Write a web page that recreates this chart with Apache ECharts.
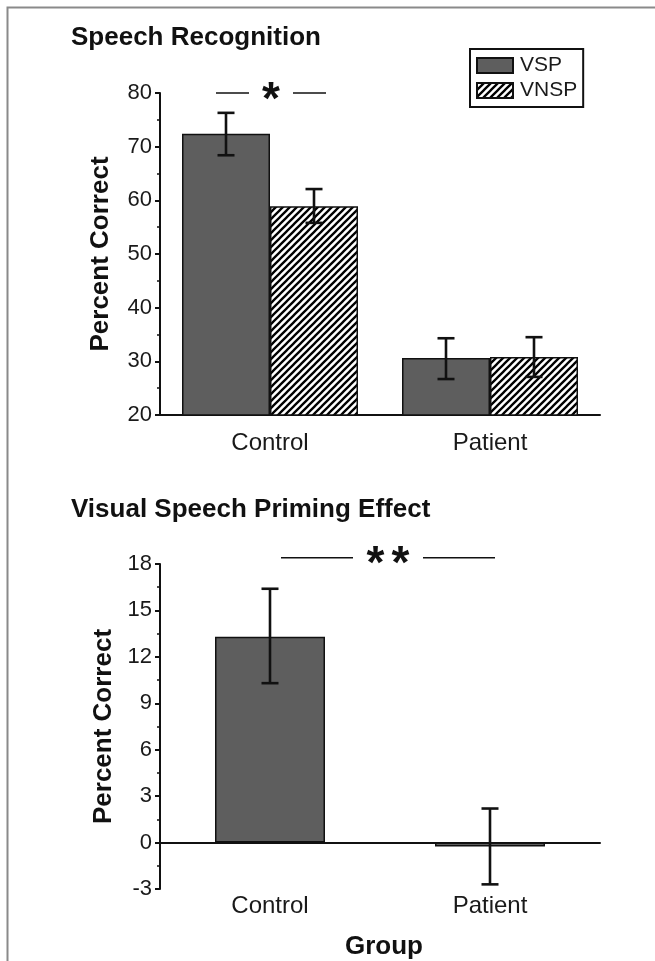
<!DOCTYPE html>
<html>
<head>
<meta charset="utf-8">
<script src="https://cdn.jsdelivr.net/npm/echarts@6/dist/echarts.min.js"></script>
<style>
  html, body { margin: 0; padding: 0; background: #fff; }
  #chart { width: 655px; height: 961px; }
</style>
</head>
<body>
<div id="chart"></div>
<script>
// data
const categories = ['Control', 'Patient']
const vspMean = [72.4, 30.6]
const vspErr = [[68.4, 76.3], [26.7, 34.3]]
const vnspMean = [58.9, 30.8]
const vnspErr = [[55.8, 62.1], [27.1, 34.5]]
const primingMean = [13.3, -0.25]
const primingErr = [[10.3, 16.4], [-2.7, 2.2]]
const recogTicks = [20, 30, 40, 50, 60, 70, 80]
const primingTicks = [-3, 0, 3, 6, 9, 12, 15, 18]
const sigLabels = ['*', '**']

const FONT = 'Liberation Sans, Arial, sans-serif'
const BAR_GRAY = '#5e5e5e'

// diagonal hatch for VNSP
function hatch () {
  const c = document.createElement('canvas')
  const s = 7
  c.width = s
  c.height = s
  const ctx = c.getContext('2d')
  ctx.fillStyle = '#fff'
  ctx.fillRect(0, 0, s, s)
  ctx.strokeStyle = '#000'
  ctx.lineWidth = 2.3
  ctx.beginPath()
  ctx.moveTo(0, s); ctx.lineTo(s, 0)
  ctx.moveTo(-s / 2, s / 2); ctx.lineTo(s / 2, -s / 2)
  ctx.moveTo(s / 2, s * 1.5); ctx.lineTo(s * 1.5, s / 2)
  ctx.stroke()
  return { image: c, repeat: 'repeat' }
}

function yAxisFor (grid, ticks, gap) {
  return {
    type: 'value',
    gridIndex: grid,
    min: ticks[0],
    max: ticks[ticks.length - 1],
    interval: ticks[1] - ticks[0],
    name: 'Percent Correct',
    nameLocation: 'middle',
    nameGap: gap,
    nameTextStyle: { fontFamily: FONT, fontSize: 26, fontWeight: 'bold', color: '#111' },
    axisLine: { show: true, lineStyle: { color: '#111', width: 2 } },
    axisTick: { show: true, length: 5, lineStyle: { color: '#111', width: 2 } },
    minorTick: { show: true, splitNumber: 2, length: 3, lineStyle: { color: '#111', width: 1.5 } },
    splitLine: { show: false },
    axisLabel: { fontFamily: FONT, fontSize: 22, color: '#1a1a1a', margin: 8 }
  }
}

function errorSeries (xIdx, yIdx, errs, shift) {
  return {
    type: 'custom',
    xAxisIndex: xIdx,
    yAxisIndex: yIdx,
    z: 10,
    silent: true,
    data: errs.map((e, i) => [i, e[0], e[1]]),
    renderItem (params, api) {
      const band = api.size([1, 0])[0]
      const lo = api.coord([api.value(0), api.value(1)])
      const hi = api.coord([api.value(0), api.value(2)])
      const x = lo[0] + shift * band
      const cap = 8.5
      const style = { stroke: '#111', lineWidth: 2.6 }
      return {
        type: 'group',
        children: [
          { type: 'line', shape: { x1: x, y1: lo[1], x2: x, y2: hi[1] }, style },
          { type: 'line', shape: { x1: x - cap, y1: hi[1], x2: x + cap, y2: hi[1] }, style },
          { type: 'line', shape: { x1: x - cap, y1: lo[1], x2: x + cap, y2: lo[1] }, style }
        ]
      }
    }
  }
}

// significance bracket: "—— * ——" centred between the given categories
function sigSeries (xIdx, yIdx, fromCat, toCat, yVal, label, half, gap, fontSize, step, nudge) {
  return {
    type: 'custom',
    xAxisIndex: xIdx,
    yAxisIndex: yIdx,
    clip: false,
    silent: true,
    z: 20,
    data: [[fromCat, yVal]],
    renderItem (params, api) {
      const a = api.coord([fromCat, yVal])
      const b = api.coord([toCat, yVal])
      const cx = (a[0] + b[0]) / 2 + nudge
      const y = a[1]
      const style = { stroke: '#111', lineWidth: 1.6 }
      const children = [
        { type: 'line', shape: { x1: cx - half, y1: y, x2: cx - gap, y2: y }, style },
        { type: 'line', shape: { x1: cx + gap, y1: y, x2: cx + half, y2: y }, style }
      ]
      const chars = label.split('')
      chars.forEach((ch, i) => {
        children.push({
          type: 'text',
          style: {
            text: ch,
            x: cx + (i - (chars.length - 1) / 2) * step,
            y: y + fontSize * 0.17,
            align: 'center',
            verticalAlign: 'middle',
            font: 'bold ' + fontSize + 'px ' + FONT,
            fill: '#111'
          }
        })
      })
      return { type: 'group', children }
    }
  }
}

const chart = echarts.init(document.getElementById('chart'), null, { renderer: 'canvas' })
const hatchFill = hatch()

chart.setOption({
  backgroundColor: '#fff',
  animation: false,
  title: [
    { text: 'Speech Recognition', left: 66, top: 20, textStyle: { fontFamily: FONT, fontSize: 26, fontWeight: 'bold', color: '#111' } },
    { text: 'Visual Speech Priming Effect', left: 66, top: 492, textStyle: { fontFamily: FONT, fontSize: 26, fontWeight: 'bold', color: '#111' } }
  ],
  legend: {
    data: ['VSP', 'VNSP'],
    orient: 'vertical',
    left: 470,
    top: 49,
    padding: [6, 6, 6, 6],
    itemGap: 4,
    itemWidth: 36,
    itemHeight: 15,
    icon: 'rect',
    borderColor: '#111',
    borderWidth: 2,
    textStyle: { fontFamily: FONT, fontSize: 21, color: '#1a1a1a', padding: [0, 0, 0, 2] }
  },
  grid: [
    { left: 160, top: 93, width: 440, height: 322 },
    { left: 160, top: 564, width: 440, height: 327 }
  ],
  xAxis: [
    {
      type: 'category', gridIndex: 0, data: categories,
      axisLine: { onZero: false, lineStyle: { color: '#111', width: 2 } },
      axisTick: { show: false },
      axisLabel: { fontFamily: FONT, fontSize: 24, color: '#1a1a1a', margin: 16 }
    },
    {
      type: 'category', gridIndex: 1, data: categories, position: 'bottom',
      axisLine: { onZero: true, lineStyle: { color: '#111', width: 2 } },
      axisTick: { show: false },
      axisLabel: { show: false }
    },
    {
      type: 'category', gridIndex: 1, data: categories, position: 'bottom',
      axisLine: { show: false, onZero: false },
      axisTick: { show: false },
      axisLabel: { fontFamily: FONT, fontSize: 24, color: '#1a1a1a', margin: 5 },
      name: 'Group',
      nameLocation: 'middle',
      nameGap: 45,
      nameTextStyle: { fontFamily: FONT, fontSize: 26, fontWeight: 'bold', color: '#111', padding: [0, 0, 0, 8] }
    }
  ],
  yAxis: [
    yAxisFor(0, recogTicks, 46),
    yAxisFor(1, primingTicks, 40)
  ],
  series: [
    {
      name: 'VSP', type: 'bar', xAxisIndex: 0, yAxisIndex: 0,
      data: vspMean, barGap: '0%', barCategoryGap: '20%',
      itemStyle: { color: BAR_GRAY, borderColor: '#111', borderWidth: 1.5 }
    },
    {
      name: 'VNSP', type: 'bar', xAxisIndex: 0, yAxisIndex: 0,
      data: vnspMean, barGap: '0%', barCategoryGap: '20%',
      itemStyle: { color: hatchFill, borderColor: '#111', borderWidth: 1.5 }
    },
    errorSeries(0, 0, vspErr, -0.2),
    errorSeries(0, 0, vnspErr, 0.2),
    sigSeries(0, 0, 0, 0, 80, sigLabels[0], 55, 22, 46, 0, 1),
    {
      name: 'Priming', type: 'bar', xAxisIndex: 1, yAxisIndex: 1,
      data: primingMean, barWidth: '50%',
      itemStyle: { color: BAR_GRAY, borderColor: '#111', borderWidth: 1.5 }
    },
    errorSeries(1, 1, primingErr, 0),
    sigSeries(1, 1, 0, 1, 18.4, sigLabels[1], 107, 35, 46, 25, 8)
  ],
  graphic: [
    { type: 'polyline', shape: { points: [[7.5, 961], [7.5, 7.5], [655, 7.5]] }, style: { stroke: '#8a8a8a', lineWidth: 2, fill: null }, silent: true }
  ]
})
</script>
</body>
</html>
